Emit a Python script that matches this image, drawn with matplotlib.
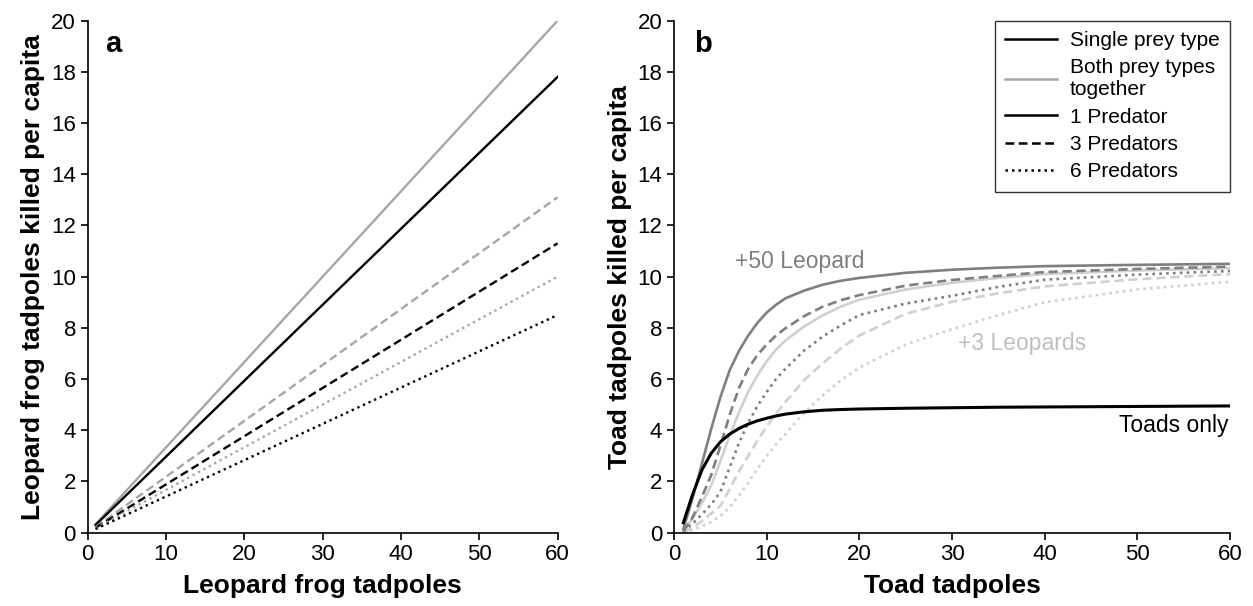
import matplotlib
matplotlib.use("Agg")
import matplotlib.pyplot as plt
from matplotlib.lines import Line2D

plt.rcParams["font.family"] = ["Liberation Sans", "DejaVu Sans"]

# --- panel a: leopard frog tadpoles (straight lines) ---
X_A = [1, 60]
A_BOTH_1 = [0.33, 20.0]     # gray solid
A_SINGLE_1 = [0.30, 17.8]   # black solid
A_BOTH_3 = [0.22, 13.1]     # gray dashed
A_SINGLE_3 = [0.19, 11.3]   # black dashed
A_BOTH_6 = [0.17, 10.0]     # gray dotted
A_SINGLE_6 = [0.14, 8.5]    # black dotted

# --- panel b: toad tadpoles ---
X_B = [1, 2, 3, 4, 5, 6, 7, 8, 9, 10, 11, 12, 14, 16, 18, 20, 25, 30, 35,
       40, 50, 60]
TOADS_ONLY = [0.39, 1.5, 2.45, 3.1, 3.55, 3.85, 4.07, 4.24, 4.37, 4.47, 4.56,
              4.63, 4.72, 4.78, 4.81, 4.83, 4.86, 4.88, 4.9, 4.91, 4.93, 4.95]
L50_1 = [0.15, 1.35, 2.7, 4.05, 5.3, 6.35, 7.1, 7.7, 8.2, 8.6, 8.9, 9.15,
         9.45, 9.68, 9.84, 9.95, 10.15, 10.27, 10.35, 10.41, 10.46, 10.5]
L50_3 = [0.05, 0.6, 1.4, 2.25, 3.4, 4.6, 5.65, 6.4, 6.95, 7.35, 7.7, 7.98,
         8.45, 8.82, 9.08, 9.28, 9.65, 9.87, 10.03, 10.18, 10.3, 10.39]
L50_6 = [0.05, 0.35, 0.72, 1.1, 1.6, 2.55, 3.5, 4.3, 4.95, 5.5, 6.0, 6.4,
         7.1, 7.65, 8.1, 8.5, 8.95, 9.25, 9.6, 9.88, 10.08, 10.22]
L3_1 = [0.05, 0.55, 1.15, 1.85, 2.8, 3.8, 4.7, 5.5, 6.15, 6.7, 7.15, 7.5,
        8.05, 8.48, 8.83, 9.1, 9.5, 9.76, 9.95, 10.1, 10.24, 10.33]
L3_3 = [0.0, 0.2, 0.45, 0.75, 1.05, 1.7, 2.4, 3.0, 3.6, 4.15, 4.65, 5.1,
        5.95, 6.6, 7.2, 7.7, 8.55, 9.02, 9.35, 9.62, 9.9, 10.1]
L3_6 = [0.0, 0.1, 0.25, 0.42, 0.65, 1.0, 1.45, 1.95, 2.5, 3.0, 3.45, 3.85,
        4.66, 5.35, 5.95, 6.45, 7.35, 7.95, 8.5, 9.0, 9.5, 9.8]

GRAY_A = "#a6a6a6"
DARK = "#7f7f7f"
LIGHT = "#d0d0d0"
DASH = (0, (3.5, 1.8))
DOT = (0, (1, 1.6))


def style_axes(ax, xlabel, ylabel, letter):
    ax.set_xlim(0, 60)
    ax.set_ylim(0, 20)
    ax.set_xticks(range(0, 61, 10))
    ax.set_yticks(range(0, 21, 2))
    ax.spines["top"].set_visible(False)
    ax.spines["right"].set_visible(False)
    for s in ("left", "bottom"):
        ax.spines[s].set_linewidth(1.2)
    ax.tick_params(labelsize=16, length=5, width=1.2, direction="out")
    ax.set_xlabel(xlabel, fontsize=19, fontweight="bold", labelpad=6)
    ax.set_ylabel(ylabel, fontsize=19, fontweight="bold", labelpad=4)
    ax.text(2.2, 19.1, letter, fontsize=21, fontweight="bold", va="center")


fig = plt.figure(figsize=(12.53, 6.06), dpi=100)
ax1 = fig.add_axes([0.070, 0.121, 0.375, 0.845])
ax2 = fig.add_axes([0.538, 0.121, 0.4437, 0.845])

# panel a
lw = 1.7
ax1.plot(X_A, A_BOTH_1, color=GRAY_A, lw=lw)
ax1.plot(X_A, A_SINGLE_1, color="black", lw=lw)
ax1.plot(X_A, A_BOTH_3, color=GRAY_A, lw=lw, ls=DASH)
ax1.plot(X_A, A_SINGLE_3, color="black", lw=lw, ls=DASH)
ax1.plot(X_A, A_BOTH_6, color=GRAY_A, lw=lw, ls=DOT)
ax1.plot(X_A, A_SINGLE_6, color="black", lw=lw, ls=DOT)
style_axes(ax1, "Leopard frog tadpoles",
           "Leopard frog tadpoles killed per capita", "a")

# panel b
lw = 1.9
ax2.plot(X_B, L3_6, color=LIGHT, lw=lw, ls=DOT)
ax2.plot(X_B, L3_3, color=LIGHT, lw=lw, ls=DASH)
ax2.plot(X_B, L3_1, color=LIGHT, lw=lw)
ax2.plot(X_B, L50_6, color=DARK, lw=lw, ls=DOT)
ax2.plot(X_B, L50_3, color=DARK, lw=lw, ls=DASH)
ax2.plot(X_B, L50_1, color=DARK, lw=lw)
ax2.plot(X_B, TOADS_ONLY, color="black", lw=2.2)
style_axes(ax2, "Toad tadpoles", "Toad tadpoles killed per capita", "b")

ax2.text(6.6, 10.6, "+50 Leopard", fontsize=16.5, color=DARK, va="center")
ax2.text(30.6, 7.4, "+3 Leopards", fontsize=16.5, color="#bfbfbf",
         va="center")
ax2.text(59.8, 4.2, "Toads only", fontsize=16.5, color="black",
         va="center", ha="right")

handles = [
    Line2D([], [], color="black", lw=1.8),
    Line2D([], [], color=GRAY_A, lw=1.8),
    Line2D([], [], color="black", lw=1.8),
    Line2D([], [], color="black", lw=1.8, ls=DASH),
    Line2D([], [], color="black", lw=1.8, ls=DOT),
]
labels = ["Single prey type", "Both prey types\ntogether", "1 Predator",
          "3 Predators", "6 Predators"]
leg = ax2.legend(handles, labels, loc="upper right",
                 bbox_to_anchor=(1.0, 1.0), borderaxespad=0.0, fontsize=15,
                 frameon=True, fancybox=False, edgecolor="black",
                 handlelength=2.5, handletextpad=0.6, labelspacing=0.4,
                 borderpad=0.5)
leg.get_frame().set_linewidth(1.0)

fig.savefig("out.png", dpi=100)
plt.close(fig)
